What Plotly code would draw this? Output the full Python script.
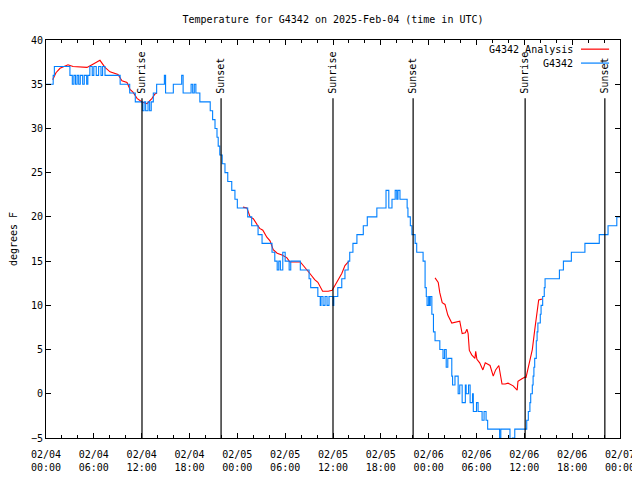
import plotly.graph_objects as go

# ---- data (hours since 2025-02-04 00:00 UTC) ----
obs_hours = [0.0, 0.9, 1.05, 3.0, 3.3, 3.5, 3.7, 3.9, 4.1, 4.3, 4.6, 4.8, 5.1, 5.25, 5.5, 5.8, 6.0, 6.3, 6.6, 6.9,
             7.1, 7.4, 9.3, 10.5, 11.2, 12.1, 12.3, 12.5, 12.8, 13.0, 13.2, 13.46, 13.88, 14.85, 15.0, 15.97, 17.02,
             17.2, 18.2, 18.4, 18.6, 18.8, 19.3, 20.6, 20.9, 21.2, 21.45, 21.6, 21.8, 22.1, 22.45, 22.8, 23.3, 23.7,
             24.0, 25.3, 25.8, 26.6, 27.1, 28.35, 28.7, 29.0, 29.2, 29.4, 29.7, 30.0, 30.5, 30.7, 31.9, 33.0, 33.2,
             34.1, 34.4, 34.5, 34.75, 35.0, 35.25, 35.5, 36.0, 36.1, 36.6, 37.1, 37.5, 37.9, 38.1, 38.5, 39.0, 39.8,
             40.3, 41.5, 42.65, 43.0, 43.4, 43.8, 44.0, 44.15, 44.4, 45.3, 45.4, 45.7, 45.9, 46.3, 46.5, 47.3, 47.55,
             47.7, 47.8, 48.0, 48.1, 48.2, 48.4, 48.6, 48.8, 49.4, 49.8, 50.0, 50.2, 50.4, 50.9, 51.0, 51.3, 51.7,
             51.9, 52.2, 52.6, 52.7, 53.0, 53.2, 53.5, 53.6, 54.0, 54.2, 54.7, 54.95, 55.2, 55.4, 56.9, 57.05, 58.2,
             58.5, 58.8, 60.3, 60.5, 60.7, 60.8, 61.0, 61.1, 61.2, 61.3, 61.5, 61.6, 61.7, 62.0, 62.1, 62.3, 62.5,
             62.6, 64.4, 64.9, 65.9, 67.6, 69.4, 70.5, 71.6, 72.0]
obs_temp = [35, 36, 37, 36, 35, 36, 35, 36, 35, 36, 35, 36, 35, 36, 37, 36, 37, 36, 37, 36,
            37, 36, 35, 34, 33, 32, 33, 32, 33, 32, 33, 34, 35, 36, 34, 35, 36,
            34, 35, 34, 35, 34, 33, 32, 31, 30, 29, 28, 27, 26, 25, 24, 23, 22,
            21, 20, 19, 18, 17, 16, 15, 14, 15, 14, 16, 15, 14, 15, 14, 13, 12,
            11, 10, 11, 10, 11, 10, 11, 10, 11, 12, 13, 14, 15, 16, 17, 18, 19,
            20, 21, 23, 21, 22, 23, 22, 23, 22, 21, 20, 19, 18, 17, 16, 15, 12,
            11, 10, 11, 10, 11, 9, 7, 6, 5, 4, 5, 3, 4, 2, 1, 2, 0,
            1, -1, 1, 0, 1, -1, 0, -2, -1, -2, -3, -2, -3, -4, -5, -4, -6,
            -5, -4, -3, -2, -1, 0, 1, 2, 3, 4, 6, 7, 8, 9, 10, 11, 12,
            13, 14, 15, 16, 17, 18, 19, 20, 20]

ana_hours = [0.84, 1.25, 1.76, 2.76, 3.39, 5.14, 5.77, 6.40, 6.77, 7.40, 8.03, 9.03, 9.53, 10.16, 10.54, 10.91,
             11.42, 12.04, 12.67, 13.30, 13.67, 13.92, None,
             24.7, 25.2, 25.6, 26.0, 26.5, 26.8, 27.2, 27.7, 28.1, 28.5, 29.0, 29.6, 30.2, 30.6, 31.9, 32.2, 32.7,
             33.1, 33.7, 34.1, 34.7, 35.4, 35.9, 36.25, 36.6, 37.1, 37.5, 38.0, None,
             48.8, 49.05, 49.2, 49.4, 49.7, 50.05, 50.4, 50.9, 51.6, 51.9, 52.2, 52.6, 52.8, 52.95, 53.1, 53.4, 53.8,
             53.9, 54.05, 54.4, 54.8, 55.1, 55.7, 56.1, 56.4, 56.8, 57.2, 57.6, 57.95, 58.6, 59.1, 59.2, 59.7, 60.1,
             60.2, 60.5, 61.0, 61.3, 61.6, 61.8, 62.2]
ana_temp = [35.5, 36.3, 36.8, 37.2, 37.0, 36.9, 37.2, 37.5, 37.7, 36.9, 36.4, 36.1, 35.4, 35.2, 34.4, 34.1,
            33.4, 33.0, 32.8, 33.4, 33.9, 34.0, None,
            21.1, 21.0, 20.0, 19.8, 19.1, 18.7, 18.5, 17.7, 17.3, 16.3, 15.9, 15.7, 15.4, 14.9, 14.9, 14.6, 14.0,
            13.6, 12.9, 12.6, 11.6, 11.6, 11.7, 12.3, 12.9, 13.6, 14.5, 15.0, None,
            13.1, 12.7, 12.6, 11.4, 10.3, 10.1, 8.9, 8.0, 8.1, 8.2, 6.8, 6.9, 7.3, 6.8, 4.9, 4.4, 4.0,
            4.8, 3.9, 3.5, 2.7, 3.5, 3.2, 2.0, 2.7, 3.2, 1.1, 1.1, 1.2, 0.9, 0.4, 1.4, 1.7, 1.9,
            1.8, 3.0, 5.0, 7.2, 9.5, 10.6, 10.7]

sun_hours = [12.04, 21.96, 36.0, 46.05, 60.1, 70.1]
sun_labels = ["Sunrise", "Sunset", "Sunrise", "Sunset", "Sunrise", "Sunset"]

tick_hours = [0, 6, 12, 18, 24, 30, 36, 42, 48, 54, 60, 66, 72]
tick_labels = ["02/04<br>00:00", "02/04<br>06:00", "02/04<br>12:00", "02/04<br>18:00",
               "02/05<br>00:00", "02/05<br>06:00", "02/05<br>12:00", "02/05<br>18:00",
               "02/06<br>00:00", "02/06<br>06:00", "02/06<br>12:00", "02/06<br>18:00",
               "02/07<br>00:00"]

series_names = ["G4342 Analysis", "G4342"]
series_colors = ["#ff0000", "#0080ff"]

FONT = "DejaVu Sans Mono"

# the page body has an 8px margin, so the figure is sized to fill the 640x480 window
FIG_W, FIG_H = 632, 472

fig = go.Figure()
fig.add_trace(go.Scatter(x=ana_hours, y=ana_temp, mode="lines", name=series_names[0],
                         line=dict(color=series_colors[0], width=1.1), connectgaps=False))
fig.add_trace(go.Scatter(x=obs_hours, y=obs_temp, mode="lines", name=series_names[1],
                         line=dict(color=series_colors[1], width=1.1, shape="hv")))

shapes = []
annotations = []
for h, lab in zip(sun_hours, sun_labels):
    shapes.append(dict(type="line", xref="x", yref="y", x0=h, x1=h, y0=-5, y1=33.4,
                       line=dict(color="black", width=1.2), layer="above"))
    annotations.append(dict(x=h, y=33.7, xref="x", yref="y", text=lab, textangle=-90,
                            showarrow=False, xanchor="center", yanchor="bottom",
                            font=dict(family=FONT, size=10, color="black")))

# gnuplot-style legend (text then line sample), top right inside plot
leg_y = [0.977, 0.942]
for i, (name, col) in enumerate(zip(series_names, series_colors)):
    annotations.append(dict(x=0.9216, y=leg_y[i], xref="paper", yref="paper", text=name,
                            showarrow=False, xanchor="right", yanchor="middle",
                            font=dict(family=FONT, size=10, color="black")))
    shapes.append(dict(type="line", xref="paper", yref="paper", x0=0.932, x1=0.981,
                       y0=leg_y[i], y1=leg_y[i], line=dict(color=col, width=1.2), layer="above"))

fig.update_layout(
    width=FIG_W, height=FIG_H,
    margin=dict(l=38, r=20, t=32, b=42),
    paper_bgcolor="white", plot_bgcolor="white",
    font=dict(family=FONT, size=10, color="black"),
    showlegend=False,
    title=dict(text="Temperature for G4342 on 2025-Feb-04 (time in UTC)", x=0.5, xref="paper",
               y=1 - 11 / FIG_H, yref="container", xanchor="center", yanchor="middle",
               font=dict(family=FONT, size=10, color="black")),
    shapes=shapes, annotations=annotations,
)
fig.update_xaxes(range=[0, 72], tickmode="array", tickvals=tick_hours, ticktext=tick_labels,
                 ticks="inside", ticklen=5, tickcolor="black", tickwidth=1,
                 showline=True, linecolor="black", linewidth=1, mirror="ticks",
                 showgrid=False, zeroline=False, automargin=False, ticklabelstandoff=7,
                 minor=dict(tickmode="linear", tick0=0, dtick=2, ticks="inside", ticklen=3,
                            tickcolor="black", showgrid=False))
fig.update_yaxes(range=[-5, 40], tickmode="linear", tick0=-5, dtick=5,
                 ticks="inside", ticklen=5, tickcolor="black", tickwidth=1,
                 showline=True, linecolor="black", linewidth=1, mirror="ticks",
                 showgrid=False, zeroline=False, automargin=False,
                 title=dict(text="degrees F", standoff=14, font=dict(family=FONT, size=10)))

fig.write_html("out.html")
